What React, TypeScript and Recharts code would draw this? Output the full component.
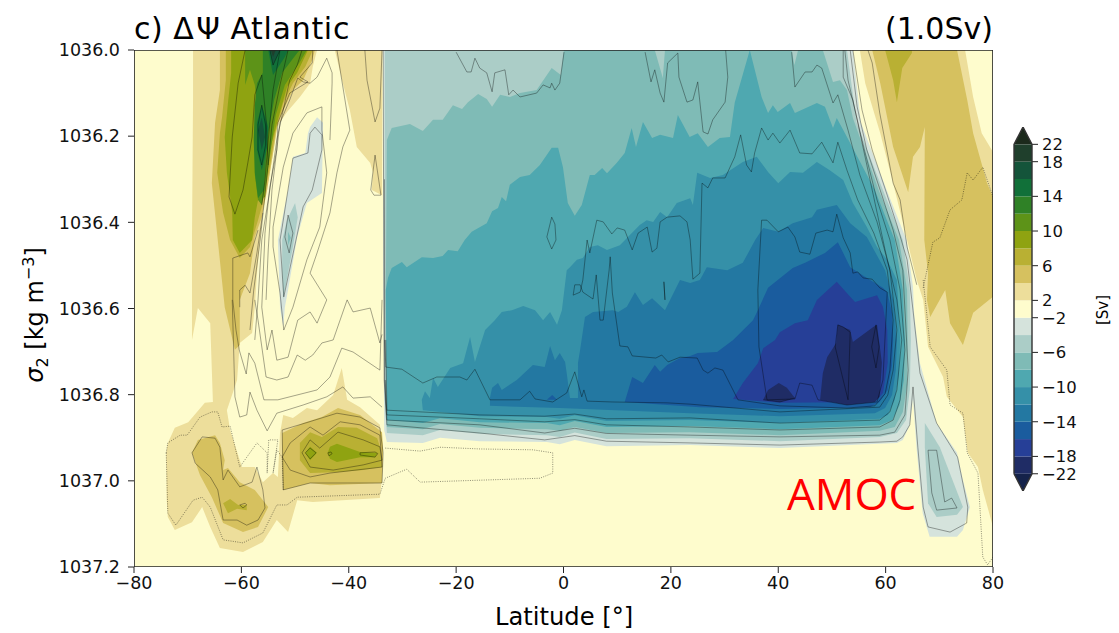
import React from 'react';
import { ScatterChart, Scatter, XAxis, YAxis } from 'recharts';

type Pt = number[];

// y values are sigma2 minus 1036, x values are degrees latitude
const latTicks = [-80, -60, -40, -20, 0, 20, 40, 60, 80];
const sigmaTicks = [0, 0.2, 0.4, 0.6, 0.8, 1.0, 1.2];

// colourbar
const barLevels = [-22, -18, -16, -14, -12, -10, -8, -6, -4, -2, 2, 4, 6, 8, 10, 12, 14, 16, 18, 22];
const barTickLevels = [22, 18, 14, 10, 6, 2, -2, -6, -10, -14, -18, -22];
const barColors = ['#1f2c65', '#263f97', '#1a5c9e', '#2378a2', '#3590a8', '#4fa8b0', '#7fbbb6', '#abcdc7', '#d5e3dc', '#fefccd', '#edde9b', '#d6c15f', '#b9b033', '#8fa311', '#5d9318', '#2f8126', '#117039', '#14543a', '#1f3f2c'];
const overColor = '#1c2a1c';
const underColor = '#14224a';

// filled regions, Atlantic cell
const neg2: Pt[] = [[-33.6,0],[53.9,0],[55.4,.169],[60.2,.325],[63.9,.441],[65.1,.55],[65.3,.61],[65.8,.666],[66.4,.727],[69.5,.866],[73.3,.935],[74.4,.998],[75.7,1.061],[74.4,1.114],[73.3,1.13],[68.2,1.13],[66.9,1.075],[65.8,.929],[65.1,.812],[64.5,.871],[63.2,.905],[62.1,.912],[40.3,.924],[23.5,.917],[8,.92],[2.1,.905],[-.7,.915],[-3.1,.91],[-15.6,.908],[-23,.9],[-26.2,.912],[-32.9,.91],[-33.4,.882],[-33.6,.5]];
const neg4: Pt[] = [[-33.3,0],[52.8,0],[54.6,.169],[59.5,.325],[63.2,.441],[64.5,.557],[64.7,.673],[64.5,.789],[63.8,.859],[62.1,.889],[58.9,.898],[40.3,.908],[23.5,.901],[8,.903],[2.1,.888],[-.7,.898],[-3.1,.894],[-15.6,.891],[-23,.882],[-26.2,.894],[-32.9,.889],[-33.3,.812]];
const neg4Blob: Pt[] = [[67.3,.866],[70.1,.922],[74.4,1.061],[73.3,1.079],[69.5,1.084],[67.9,1.052],[67.3,.922]];
const neg6: Pt[] = [[-32.9,.209],[-32,.181],[-28.6,.172],[-26.2,.188],[-24.3,.162],[-22.5,.162],[-20.6,.128],[-18.9,.137],[-17.8,.121],[-15.9,.102],[-14.3,.114],[-13.3,.132],[-11.8,.104],[-10,.109],[-8.1,.1],[-5,.093],[-2.2,.042],[-.5,.058],[.07,0],[17,0],[18.5,.065],[18.9,0],[42.5,0],[43,.035],[43.7,0],[48.3,0],[50.2,.074],[51.5,.07],[52.8,.093],[53.9,.158],[58.7,.325],[62.5,.441],[64,.557],[64.1,.673],[64,.778],[63.2,.84],[61.7,.875],[58.9,.884],[40.3,.894],[23.5,.887],[8,.889],[2.1,.875],[-.7,.884],[-3.1,.88],[-15.6,.877],[-23,.868],[-26.2,.88],[-32.9,.875],[-33.1,.58]];
const neg8: Pt[] = [[-33.1,.557],[-32.7,.529],[-32,.506],[-30.1,.492],[-29.2,.504],[-26.4,.481],[-24.3,.483],[-22.5,.478],[-21.5,.464],[-19.7,.467],[-18.4,.441],[-17.1,.422],[-14.3,.402],[-13.3,.374],[-12.2,.367],[-11.5,.341],[-10.7,.351],[-10,.313],[-8.1,.295],[-6.3,.29],[-4.4,.267],[-2.2,.227],[-1,.227],[-.1,.272],[.8,.355],[2.1,.385],[3.4,.36],[4.9,.29],[5.8,.29],[7.2,.274],[8.1,.286],[9.9,.262],[11.4,.239],[12.7,.181],[13.5,.225],[14.8,.167],[16.5,.204],[18,.197],[20.4,.204],[21.3,.151],[23.5,.202],[25,.193],[26.9,.225],[29.1,.204],[31,.202],[31.9,.122],[34.7,0],[36.9,.109],[38.1,.146],[39,.128],[39.9,.144],[42.2,.123],[43.1,.146],[47.2,.123],[48.7,.132],[50.2,.181],[50.9,.158],[52.8,.202],[58,.325],[61.7,.441],[63.2,.557],[63.6,.673],[63.4,.766],[62.6,.824],[61.3,.859],[58.9,.871],[40.3,.88],[23.5,.873],[8,.875],[2.1,.861],[-.7,.871],[-3.1,.866],[-15.6,.864],[-23,.855],[-26.2,.866],[-32.9,.859]];
const neg10: Pt[] = [[-26.4,.812],[-25.8,.792],[-24.9,.808],[-24.3,.761],[-23.4,.782],[-21.1,.738],[-18.7,.727],[-17.4,.666],[-16.5,.724],[-14.6,.65],[-12.8,.627],[-11.5,.608],[-9.6,.604],[-7.5,.594],[-5.3,.604],[-3.8,.627],[-2.5,.608],[-1.2,.638],[-.3,.604],[.6,.511],[1.2,.504],[2.5,.487],[3.6,.483],[4.9,.457],[6.4,.453],[8.1,.464],[10.5,.453],[14.2,.406],[15.5,.395],[16.7,.399],[18,.376],[19.3,.388],[21.1,.355],[23.6,.344],[24.1,.36],[24.9,.285],[27.3,.297],[29.7,.29],[33.4,.26],[36,.248],[38.1,.283],[40,.309],[42.2,.283],[44.6,.285],[47.2,.26],[49.6,.279],[52.1,.302],[53.9,.355],[56.5,.411],[58.4,.457],[60.3,.487],[62.1,.534],[62.7,.673],[62.5,.754],[61.7,.812],[60.4,.847],[58.9,.856],[40.3,.866],[23.6,.859],[8,.861],[2.1,.848],[-.7,.856],[-3.1,.852],[-15.6,.85],[-23,.84],[-26.2,.836]];
const neg12: Pt[] = [[-13.7,.808],[-13.3,.784],[-12.2,.773],[-11.5,.789],[-8.7,.766],[-5.7,.731],[-3.5,.736],[-2.5,.687],[-1.6,.72],[-.7,.703],[.3,.724],[.6,.75],[1.2,.808],[2.7,.808],[2.7,.726],[3.1,.696],[4,.62],[5.5,.608],[9.2,.604],[10.2,.608],[11.8,.596],[13.3,.562],[14.8,.592],[16.5,.576],[18.9,.604],[21.7,.534],[23.6,.541],[25.4,.534],[26.7,.504],[30.5,.511],[33.4,.494],[35.7,.441],[37.2,.413],[40,.422],[42.7,.402],[46.3,.388],[47.2,.371],[50.9,.36],[53.4,.402],[56.5,.434],[59.9,.511],[61.4,.58],[62.1,.673],[61.9,.743],[61.2,.801],[59.9,.831],[58,.843],[40.3,.85],[23.6,.843],[-.7,.831],[-13.7,.826]];
const neg14: Pt[] = [[11.4,.817],[12.8,.759],[14.8,.773],[17,.731],[18,.747],[19.3,.731],[21.7,.715],[23.6,.71],[25,.703],[28.6,.701],[31.6,.673],[35.3,.627],[36.2,.604],[38.1,.552],[42.7,.506],[45,.494],[48.7,.471],[51.1,.446],[53.4,.504],[56.5,.529],[59.5,.552],[60.3,.562],[61.2,.61],[61.4,.673],[61.2,.731],[60.4,.789],[58.9,.817],[57.1,.829],[40.3,.833],[25.4,.829]];
const neg14Small: Pt[] = [[-2.1,.801],[-1.2,.812],[-3.1,.812]];
const neg16: Pt[] = [[31.6,.81],[33.4,.773],[36.2,.727],[37.2,.692],[39.4,.673],[40.3,.655],[43.1,.634],[45.5,.627],[47.2,.58],[50.9,.538],[53.4,.573],[54.3,.585],[58.4,.569],[59.5,.596],[60.3,.65],[60.4,.726],[59.5,.796],[58,.817],[40.3,.819]];
const neg18a: Pt[] = [[37.2,.812],[38.1,.789],[40.1,.773],[41.6,.784],[43.1,.808],[40.3,.817]];
const neg18b: Pt[] = [[47.8,.812],[48.3,.75],[49.1,.713],[50.8,.68],[51.1,.638],[53.4,.65],[53.9,.678],[57.7,.643],[58.4,.638],[59.3,.726],[58.9,.805],[58,.817],[52.8,.824]];

// filled regions, Southern Ocean side
const negW2: Pt[] = [[-47.2,.179],[-45.9,.156],[-44.8,.169],[-45,.332],[-47.8,.355],[-49.6,.434],[-51.3,.557],[-51.9,.597],[-52.2,.643],[-52.8,.597],[-53.2,.441],[-51.3,.325],[-50.4,.248],[-48.1,.239],[-47.6,.193]];
const negW4: Pt[] = [[-50,.355],[-49.5,.388],[-50.4,.457],[-51.9,.557],[-52.2,.58],[-52.4,.511],[-52.4,.441],[-51.5,.395]];
const negW6: Pt[] = [[-51.3,.422],[-50.8,.436],[-51.3,.453]];
const pos2West: Pt[] = [[-69,0],[-45.9,0],[-46.7,.039],[-47.2,.077],[-49.1,.109],[-51.5,.144],[-53.4,.179],[-53.7,.209],[-54.7,.285],[-56,.364],[-56.5,.441],[-57.1,.518],[-57.5,.597],[-58,.657],[-60.3,.68],[-60.8,.766],[-62.7,.836],[-62.1,.882],[-59.9,.968],[-57.5,.968],[-56,1.003],[-54.1,.982],[-53.2,.991],[-52.8,.889],[-52.2,.847],[-50.4,.854],[-47.8,.831],[-45.9,.836],[-42.9,.801],[-41.3,.738],[-40.3,.812],[-37.9,.829],[-34.2,.87],[-33.6,.928],[-33.8,.991],[-34.2,1.04],[-46.7,1.049],[-49.6,1.045],[-51.3,1.119],[-53.4,1.091],[-56,1.142],[-59.7,1.165],[-64,1.156],[-65.8,1.107],[-67.3,1.061],[-69.2,1.096],[-72.4,1.114],[-73.7,1.084],[-73.9,1.045],[-74,.935],[-73.7,.912],[-72.4,.877],[-69.9,.864],[-66.8,.819],[-65.3,.817],[-65.8,.634],[-68.1,.599],[-69.2,.673],[-69.2,.58],[-69.2,.441],[-69,.109]];
const pos2Ridge: Pt[] = [[-42.6,0],[-41.1,.077],[-39.8,.139],[-38.5,.225],[-36,.262],[-35.5,.283],[-35.7,.325],[-33.8,.337],[-33.8,0]];
const pos4West: Pt[] = [[-64,0],[-64,.093],[-64.9,.169],[-65.5,.309],[-64.4,.441],[-63.1,.597],[-61.2,.696],[-60.3,.685],[-60.3,.58],[-58.4,.518],[-57.5,.434],[-56.2,.388],[-55.2,.325],[-54.1,.239],[-53.2,.169],[-51.9,.132],[-50.4,.093],[-48.5,.07],[-46.8,.023],[-46.3,0]];
const pos6West: Pt[] = [[-62.9,0],[-62.9,.07],[-63.6,.156],[-64,.193],[-64.5,.285],[-63.4,.378],[-62.1,.441],[-60.3,.483],[-58.4,.457],[-56.9,.395],[-56.2,.364],[-54.7,.272],[-53.7,.193],[-52.2,.123],[-50.4,.077],[-48.1,.039],[-46.7,0]];
const pos8West: Pt[] = [[-61.9,0],[-61.9,.053],[-62.5,.123],[-63.1,.202],[-62.7,.285],[-61.7,.378],[-61.6,.441],[-60.3,.471],[-58,.441],[-57.5,.388],[-56.9,.348],[-55.6,.341],[-54.7,.232],[-53.2,.162],[-51.5,.086],[-49.6,.053],[-47.6,0]];
const pos10West: Pt[] = [[-59.3,0],[-59.3,.081],[-58.4,.046],[-57.5,.081],[-57.1,.132],[-57.5,.209],[-57.5,.29],[-56.9,.348],[-56.2,.36],[-55.6,.325],[-54.7,.248],[-53.6,.151],[-51.9,.081],[-49.1,.028],[-47.8,0]];
const pos12West: Pt[] = [[-56,0],[-56,.053],[-57.1,.077],[-57.5,.128],[-57.7,.209],[-57.5,.285],[-56.9,.344],[-55.8,.325],[-55.2,.209],[-53.9,.116],[-52.4,.053],[-49.6,.007],[-49.1,0]];
const pos14Top: Pt[] = [[-55,0],[-54.1,.058],[-51.9,.016],[-51.3,0]];
const pos14Mid: Pt[] = [[-56.2,.128],[-57.1,.169],[-57.1,.232],[-56.2,.279],[-55.2,.225],[-55,.179]];
const pos16Top: Pt[] = [[-54.7,0],[-54.1,.035],[-52.8,0]];
const pos16Mid: Pt[] = [[-56.2,.156],[-56.9,.186],[-56.2,.232],[-55.6,.202]];
const pos18Top: Pt[] = [[-54.5,0],[-54.1,.016],[-53.6,0]];
const pos4Low: Pt[] = [[-69.2,.935],[-68.1,.905],[-64.9,.894],[-64,.912],[-63.1,.952],[-63.4,.975],[-62.5,.97],[-60.3,1.003],[-57.5,1.021],[-55,1.061],[-56.9,1.107],[-59.7,1.119],[-63.4,1.098],[-65.5,1.038],[-67.7,.987]];
const pos6Low: Pt[] = [[-63.4,1.052],[-62.1,1.042],[-60.6,1.056],[-59,1.056],[-59,1.068],[-60.8,1.065],[-62.5,1.075]];
const pos4Mid: Pt[] = [[-52.4,.889],[-48.5,.866],[-45,.852],[-42,.831],[-37.9,.847],[-33.8,.887],[-33.6,.928],[-33.8,1.005],[-43.5,1.01],[-47.2,1.005],[-52.2,1.021],[-52.4,.952]];
const pos6Mid: Pt[] = [[-49.1,.912],[-47.2,.887],[-45,.898],[-42,.875],[-38.5,.877],[-34.7,.901],[-34.2,.921],[-33.8,.968],[-37.3,.975],[-42.2,.98],[-47.2,.982],[-49.1,.952]];
const pos8MidA: Pt[] = [[-48.1,.935],[-47.2,.921],[-45.9,.935],[-47.2,.952]];
const pos8MidB: Pt[] = [[-43.9,.935],[-43.5,.921],[-42.2,.914],[-37.9,.933],[-34.6,.935],[-35.1,.945],[-37.9,.945],[-42.2,.956],[-43.5,.949]];

// filled regions, north of the cell
const pos2East: Pt[] = [[55.2,0],[56.2,.077],[59,.193],[61.4,.309],[64,.441],[65.8,.534],[67,.58],[67.9,.689],[70.7,.759],[71.4,.805],[74.4,.852],[75.3,.935],[77.2,.968],[78.1,1.021],[80,1.107],[80,.237],[77.9,.193],[76.3,.109],[74.8,0]];
const pos4East: Pt[] = [[57.5,0],[59,.077],[61.4,.225],[64.2,.33],[65.1,.248],[66.4,.225],[67.3,.179],[67.2,.441],[67.9,.518],[67.7,.58],[68.3,.62],[71.1,.557],[72,.634],[74.4,.685],[76.3,.61],[80,.573],[80,.341],[78.9,.309],[76.3,.193],[75.2,.116],[73.3,0]];
const pos6East: Pt[] = [[59.9,0],[61.4,.07],[62.1,.121],[63.1,.042],[64.9,.007],[64.9,0]];

// level of each filled region, painted in this order
const filled: [number, Pt[]][] = [
  [2, pos2West], [2, pos2Ridge], [2, pos2East], [4, pos4West], [4, pos4Low], [4, pos4Mid], [4, pos4East],
  [6, pos6West], [6, pos6Low], [6, pos6Mid], [6, pos6East], [8, pos8West], [8, pos8MidA], [8, pos8MidB],
  [10, pos10West], [12, pos12West], [14, pos14Top], [14, pos14Mid], [16, pos16Top], [16, pos16Mid], [18, pos18Top],
  [-2, negW2], [-4, negW4], [-6, negW6],
  [-2, neg2], [-4, neg4], [-4, neg4Blob], [-6, neg6], [-8, neg8], [-10, neg10], [-12, neg12],
  [-14, neg14], [-14, neg14Small], [-16, neg16], [-18, neg18a], [-18, neg18b],
];

// contour lines, Atlantic cell
const lineA: Pt[] = [[53.9,0],[55.6,.139],[57.5,.232],[60.3,.337],[62.1,.406],[64,.487],[65.1,.604],[66.4,.75],[69.5,.866],[73.4,.945],[75.3,1.061],[75.1,1.098],[72,1.119],[67.9,1.107],[67,1.061],[66,.922],[65.1,.782],[64.5,.87],[63.2,.898],[62.1,.908],[58.9,.91],[40.3,.917],[23.6,.912],[8,.908],[2.1,.895],[-3.5,.905],[-15.6,.889],[-32.9,.87],[-33.4,.766],[-33.6,0]];
const lineB: Pt[] = [[53.4,0],[54.7,.132],[56.5,.232],[59.3,.337],[61.4,.418],[63.2,.511],[64.2,.743],[63.6,.847],[61.7,.887],[58.9,.894],[40.3,.898],[23.6,.894],[8,.89],[2.1,.878],[-3.5,.889],[-15.6,.87],[-32.9,.859],[-33.3,.766],[-33.35,.3]];
const lineC: Pt[] = [[52.4,0],[53,.07],[55.6,.209],[58.4,.348],[60.8,.441],[62.7,.557],[63.6,.696],[62.7,.812],[61.4,.859],[58.9,.875],[40.3,.882],[23.6,.875],[8,.87],[2.1,.858],[-3.5,.863],[-15.6,.856],[-32.9,.847],[-33.2,.766]];
const lineD: Pt[] = [[52.1,0],[52.1,.063],[53.9,.116],[56.5,.267],[59.9,.464],[62.1,.58],[63,.673],[62.1,.789],[60.8,.84],[58.9,.859],[40.3,.866],[23.6,.854],[8,.856],[2.1,.845],[-3.5,.85],[-15.6,.847],[-32.9,.836],[-33.1,.673]];
const lineE: Pt[] = [[42.5,.005],[43.1,.086],[45,.051],[46.3,.051],[47.2,.035],[48.1,.042],[50.2,.123],[51.1,.104],[53,.186],[55.2,.29],[58.4,.399],[60.8,.511],[62.1,.65],[61.4,.743],[60.4,.801],[58.9,.829],[40.3,.84],[23.6,.822],[19.3,.819],[9.2,.817],[4.4,.815],[3.8,.789],[3.4,.805],[2.1,.747],[.6,.796],[-2,.817],[-5.3,.81],[-6.3,.792],[-8.1,.812],[-13.7,.812],[-16.5,.741],[-18,.766],[-19.3,.759],[-23.6,.759],[-26.2,.773],[-30.1,.741],[-33.1,.736],[-33.3,.673]];
const lineF: Pt[] = [[51.1,.214],[50.2,.262],[48.1,.214],[46.3,.241],[44,.239],[42.2,.186],[40.3,.216],[39,.193],[38.1,.209],[36.9,.181],[35.6,.239],[35,.283],[34.1,.267],[33,.197],[31.9,.248],[30.1,.297],[27.8,.297],[26.9,.32],[25.8,.309],[25.4,.518],[24.1,.532],[23.6,.441],[23,.399],[21.7,.385],[19.3,.388],[18,.399],[17.4,.46],[16.5,.469],[15.6,.411],[13.9,.425],[12.8,.464],[11.4,.418],[10,.413],[9,.427],[7.4,.399],[6.2,.395],[4.9,.471],[4.4,.441],[3.6,.534],[3.1,.562],[1.8,.569],[2.1,.545],[3.1,.545],[3.6,.562],[5.5,.578],[6.1,.522],[6.8,.627],[7.4,.627],[8.5,.511],[8.7,.48],[9.1,.564],[10.5,.687],[12,.689],[12.8,.71],[17.2,.715],[18.3,.708],[19.5,.724],[21.7,.713],[24.9,.715],[26,.743],[26.9,.75],[28.2,.738],[29.7,.743],[32.5,.812],[40.3,.826],[52.8,.831],[58,.826],[59.9,.798],[60.8,.743],[61.4,.627],[60.3,.511],[57.8,.425],[54.8,.348],[52.8,.279],[51.1,.214]];
const lineG: Pt[] = [[36.2,.557],[36.9,.395],[37.9,.395],[40,.422],[41.8,.411],[43.1,.434],[44,.469],[45.9,.474],[47,.425],[49.1,.418],[50.2,.422],[50.9,.381],[52.1,.436],[53.4,.471],[53.9,.518],[54.8,.515],[55.8,.529],[57.5,.532],[58.9,.552],[60.3,.562],[59.5,.766],[58.4,.817],[52.8,.824],[47.4,.812],[46.3,.778],[44,.773],[43.1,.81],[37.9,.812],[36.4,.689],[36.2,.557]];
const coreA: Pt[] = [[51.1,.638],[50.6,.689],[53,.812],[53.4,.655],[52.1,.643],[51.1,.638]];
const coreB: Pt[] = [[58.2,.638],[57.4,.689],[58.2,.738],[58.8,.689],[58.2,.638]];
const coreC: Pt[] = [[37.2,.812],[40.3,.817],[43.1,.808]];
const loopA: Pt[] = [[-2.2,.388],[-3.1,.434],[-2.2,.462],[-1.4,.441],[-1.6,.404],[-2.2,.388]];
const loopB: Pt[] = [[18.7,.538],[18.9,.58],[18.7,.538]];
const steep: Pt[] = [[56.7,0],[57.5,.03],[58.9,.146],[61.4,.309],[62.7,.348],[64,.457],[65.8,.545]];
const blobInner: Pt[] = [[67.9,.929],[69.5,.929],[71,1.049],[72.3,1.04],[73.3,1.063],[69.5,1.068],[68.6,1.028],[67.9,.929]];
const topA: Pt[] = [[-20,.005],[-18,.051],[-17.2,.051],[-16.5,.019],[-15.6,.042],[-14.3,.053],[-13.3,.097],[-12.8,.053],[-10.9,.046],[-10.2,.104],[-9.4,.093],[-8.1,.109],[-5,.1],[-3.8,.081],[-2.5,.088],[-2.2,.077],[-1.6,.093],[-.7,.077],[.1,.005]];
const topB: Pt[] = [[15.2,.005],[16.3,.074],[17,.046],[18,.1],[18.7,.121],[19.4,.03],[21.3,.007],[21.5,.063],[23,.121],[24.1,.116],[25,.074],[26,.19],[26.9,.195],[27.8,.162],[30.1,.121],[30.6,.063],[30.2,0]];

// contour lines, Southern Ocean side
const w1: Pt[] = [[-59.3,0],[-60.6,.077],[-61.7,.202],[-62.3,.341],[-61.2,.381],[-59.7,.325],[-58.8,.262],[-58,.202],[-57.5,.104],[-56.2,.058],[-55.4,.162],[-55,.267]];
const w2: Pt[] = [[-56.2,.128],[-56.9,.174],[-56.9,.232],[-56.2,.267],[-55.5,.221],[-55.5,.174],[-56.2,.128]];
const w3: Pt[] = [[-54.7,0],[-54.1,.035],[-52.8,0]];
const w4: Pt[] = [[-52.8,0],[-54.1,.093],[-55,.209],[-55.6,.302],[-56.2,.36]];
const w5: Pt[] = [[-51.3,0],[-52.8,.081],[-54.3,.174],[-55.4,.313],[-56.5,.441],[-57.7,.557],[-58.4,.65]];
const w6: Pt[] = [[-48.7,0],[-49.6,.035],[-51,.07],[-52.2,.139],[-53.4,.209],[-54.7,.325],[-56.2,.441],[-56.9,.58],[-57.5,.673]];
const w7: Pt[] = [[-46.7,0],[-46.8,.03],[-49.1,.063],[-47.6,.074],[-51,.1],[-53.2,.169],[-53.4,.232],[-54.7,.318],[-55.6,.425],[-56.2,.597],[-55.2,.696],[-54.3,.65],[-53.4,.72],[-51.3,.713],[-49.5,.627],[-47.2,.608],[-45.9,.634],[-44.1,.58],[-47.2,.518],[-45.9,.471],[-43.5,.378],[-42.2,.285],[-41.1,.225],[-39.8,.186],[-42.2,0]];
const w8: Pt[] = [[-43.5,.209],[-43.1,.077],[-43.1,.053],[-44.1,.019],[-45.9,.063],[-47.2,.077],[-48.5,.074],[-49.5,.065],[-51,.116],[-52.8,.169],[-54.3,.325],[-55,.464],[-55.4,.58]];
const w9: Pt[] = [[-45,.132],[-47.8,.146],[-50.4,.193],[-52.2,.272],[-54.1,.411],[-54.1,.457],[-52.8,.564],[-52.1,.65],[-50.4,.597],[-47.8,.487],[-45.4,.411],[-44.1,.285],[-45,.186],[-45,.132]];
const w10: Pt[] = [[-46.3,.179],[-47.2,.193],[-47.6,.239],[-50.4,.251],[-52.4,.411],[-52.8,.441],[-52.1,.573],[-48.5,.364],[-46.8,.325],[-45,.232],[-45,.197],[-46.3,.179]];
const w11: Pt[] = [[-51.3,.383],[-51.9,.434],[-51.1,.471],[-50.4,.425],[-51.3,.383]];
const w12: Pt[] = [[-37,0],[-36.6,.07],[-35.1,.167],[-34.2,.135],[-33.8,0]];
const w13: Pt[] = [[-35.1,.244],[-35.9,.325],[-35.3,.337],[-34,.337],[-35.1,.244]];
const w14: Pt[] = [[-56.9,.418],[-58.4,.48],[-58.8,.471],[-61.6,.483],[-61.6,.58],[-61,.65],[-60.4,.696],[-59.1,.752],[-58.6,.703],[-57.5,.727],[-55.8,.812],[-53.2,.812],[-45.9,.789],[-43.5,.759],[-41.3,.692],[-39.2,.701],[-34.2,.743],[-33.8,.58]];
const w15: Pt[] = [[-60.3,.597],[-60.3,.557],[-59.3,.546],[-58.4,.564],[-57.1,.471],[-56,.378]];
const c2: Pt[] = [[-57.5,.58],[-56.9,.627],[-55.4,.759],[-53.4,.766],[-51.3,.759],[-49.6,.708],[-48.1,.72],[-46.7,.708],[-45,.68],[-42.9,.673],[-40.3,.58],[-39.2,.608],[-36,.599],[-34.2,.68],[-33.8,.66]];
const c4: Pt[] = [[-61.7,.58],[-61.2,.805],[-60.3,.852],[-59,.847],[-58.4,.794],[-57.1,.836],[-55.2,.884],[-53.4,.843],[-48.5,.824],[-44.1,.805],[-41.1,.782],[-39.2,.808],[-36,.805],[-33.8,.829]];
const m1: Pt[] = [[-69.2,.935],[-67.3,.898],[-64.9,.901],[-64,.922],[-63.4,.998],[-62.5,.975],[-60.3,1.014],[-58,1.003],[-57.1,.968],[-56,1.021],[-55.6,1.063],[-56.9,1.091],[-59,1.103],[-60.8,1.091],[-63.4,1.091],[-64.4,1.021],[-65.8,.991],[-68.6,.959],[-69.2,.935]];
const m2: Pt[] = [[-60.3,1.056],[-59.3,1.052],[-59,1.056],[-59.7,1.063],[-60.3,1.056]];
const n1: Pt[] = [[-52.4,.882],[-47.6,.864],[-42.2,.843],[-37.9,.852],[-34.2,.877],[-33.6,.935],[-33.8,1.005],[-40.3,1.005],[-47.2,1.005],[-52.2,1.021],[-52.4,.882]];
const n2: Pt[] = [[-50.9,.912],[-47.2,.875],[-44.8,.894],[-41.6,.863],[-37.9,.87],[-34.2,.894],[-33.8,.968],[-43.5,.982],[-47.2,.991],[-50.9,.975],[-52.4,.945],[-50.9,.912]];
const n3: Pt[] = [[-48.7,.935],[-47.2,.905],[-45.4,.924],[-42,.887],[-37.3,.905],[-34.2,.921],[-33.8,.952],[-37.3,.963],[-42.9,.975],[-47.2,.968],[-48.7,.935]];
const n4: Pt[] = [[-48.1,.935],[-47.2,.924],[-46.1,.935],[-47.2,.949],[-48.1,.935]];
const n5: Pt[] = [[-43.9,.935],[-43.3,.933],[-43.1,.937],[-43.7,.942],[-43.9,.935]];
const n6: Pt[] = [[-37.9,.935],[-35.1,.933],[-34.6,.937],[-35.1,.945],[-37.9,.94],[-37.9,.935]];

// dotted near-zero contours
const d1: Pt[] = [[-74,.935],[-73.7,.912],[-71.4,.894],[-70.1,.894],[-67.7,.852],[-65.5,.84],[-64.4,.84],[-63.6,.875],[-62.1,.873],[-60.3,.968],[-57.1,.912],[-55.2,.935],[-55.2,.982],[-54.9,.905],[-53.2,.905],[-54.1,.982],[-53.4,.928],[-52.4,.945],[-52.2,1.021]];
const d2: Pt[] = [[-74,.935],[-73.7,1.075],[-72.2,1.103],[-69,1.045],[-67.3,1.038],[-65.8,1.061],[-63.4,1.137],[-59.7,1.144],[-56,1.121],[-53.4,1.056],[-51.5,1.056],[-49.6,1.038],[-34.2,1.031],[-33.2,.994]];
const d3: Pt[] = [[-33.2,.924],[-26.7,.931],[-23,.922],[-15.6,.926],[-5.7,.928],[-2,.935],[-2,.982],[-4.4,.994],[-26.7,1.003],[-29.2,.973],[-33.2,.994]];
const e1: Pt[] = [[67,.552],[68.8,.446],[70.1,.436],[72,.371],[74.2,.348],[75.2,.285],[76.3,.302],[78.1,.272],[80,.341]];
const e2: Pt[] = [[67,.534],[68.3,.689],[71.4,.743],[72,.824],[74.4,.843],[75.2,.935],[77.2,.982],[78.1,1.177],[79,1.195],[80,1.177]];

const solidLines = [lineA, lineB, lineC, lineD, lineE, lineF, lineG, coreA, coreB, coreC, loopA, loopB, steep, blobInner, topA, topB, w1, w2, w3, w4, w5, w6, w7, w8, w9, w10, w11, w12, w13, w14, w15, c2, c4, m1, m2, n1, n2, n3, n4, n5, n6];
const dottedLines = [d1, d2, d3, e1, e2];

const frame: Pt[] = [[-80, 0], [80, 0], [80, 1.2], [-80, 1.2], [-80, 0]];

const toXY = (pts: Pt[]) => pts.map(([x, y]) => ({ x, y }));
const noDot = () => null;
const fmtMinus = (v: number) => (v < 0 ? `\u2212${Math.abs(v)}` : `${v}`);

// positive regions use the cell above their level, negative the cell below
const colorOf = (level: number) => barColors[barLevels.indexOf(level) - (level > 0 ? 0 : 1)];

const font = '"DejaVu Sans", sans-serif';
const tickStyle = { fontSize: 17.5, fill: '#111', fontFamily: font };
const barTickStyle = { fontSize: 16.5, fill: '#111', fontFamily: font };

const abs = (left: number, top: number, extra: React.CSSProperties): React.CSSProperties => ({
  position: 'absolute', left, top, fontFamily: font, color: '#000', whiteSpace: 'nowrap', lineHeight: 1, ...extra,
});

const barCells = barColors.map((c, i) => ({ c, pts: [[0, i], [1, i], [1, i + 1], [0, i + 1]] }));
const barOutline: Pt[] = [[0, 0], [0, 19], [0.5, 20], [1, 19], [1, 0], [0.5, -1], [0, 0]];
const overTip: Pt[] = [[0, 19], [0.5, 20], [1, 19]];
const underTip: Pt[] = [[0, 0], [0.5, -1], [1, 0]];

const App = () => (
  <div style={{ position: 'absolute', left: 0, top: 0, width: 1119, height: 633, background: '#fff', overflow: 'hidden' }}>
    <ScatterChart width={1119} height={633} margin={{ top: 50, right: 126, bottom: 36, left: 54 }} style={{ position: 'absolute', left: 0, top: 0 }}>
      <XAxis type="number" dataKey="x" domain={[-80, 80]} ticks={latTicks} tickFormatter={fmtMinus} height={30} tick={tickStyle} tickSize={6} tickMargin={4} tickLine={{ stroke: '#222' }} axisLine={false} allowDataOverflow />
      <YAxis type="number" dataKey="y" domain={[0, 1.2]} reversed ticks={sigmaTicks} tickFormatter={(v: number) => (1036 + v).toFixed(1)} width={80} tick={tickStyle} tickSize={6} tickMargin={8} tickLine={{ stroke: '#222' }} axisLine={false} allowDataOverflow />
      <Scatter data={toXY([[-80, 0], [80, 0], [80, 1.2], [-80, 1.2]])} shape={noDot} line={{ fill: '#fefccd', stroke: 'none' }} isAnimationActive={false} />
      {filled.map(([level, pts], i) => (
        <Scatter key={`f${i}`} data={toXY(pts)} shape={noDot} line={{ fill: colorOf(level), stroke: 'none' }} isAnimationActive={false} />
      ))}
      {solidLines.map((pts, i) => (
        <Scatter key={`l${i}`} data={toXY(pts)} shape={noDot} line={{ stroke: '#000', strokeOpacity: 0.5, strokeWidth: 0.7, fill: 'none' }} isAnimationActive={false} />
      ))}
      {dottedLines.map((pts, i) => (
        <Scatter key={`d${i}`} data={toXY(pts)} shape={noDot} line={{ stroke: '#000', strokeOpacity: 0.55, strokeWidth: 0.8, strokeDasharray: '1 1.3', fill: 'none' }} isAnimationActive={false} />
      ))}
      <Scatter data={toXY(frame)} shape={noDot} line={{ stroke: '#222', strokeWidth: 1.6, fill: 'none' }} isAnimationActive={false} />
    </ScatterChart>

    <ScatterChart width={95} height={364.1} margin={{ top: 0, right: 0, bottom: 0, left: 14 }} style={{ position: 'absolute', left: 1000, top: 126.7 }}>
      <XAxis type="number" dataKey="x" domain={[0, 1]} hide />
      <YAxis type="number" dataKey="y" orientation="right" domain={[-1, 20]} ticks={barTickLevels.map((l) => barLevels.indexOf(l))} tickFormatter={(i: number) => fmtMinus(barLevels[i])} interval={0} width={63} tick={barTickStyle} tickSize={6} tickMargin={4} tickLine={{ stroke: '#222' }} axisLine={false} />
      {barCells.map((cell, i) => (
        <Scatter key={i} data={toXY(cell.pts)} shape={noDot} line={{ fill: cell.c, stroke: 'none' }} isAnimationActive={false} />
      ))}
      <Scatter data={toXY(overTip)} shape={noDot} line={{ fill: overColor, stroke: 'none' }} isAnimationActive={false} />
      <Scatter data={toXY(underTip)} shape={noDot} line={{ fill: underColor, stroke: 'none' }} isAnimationActive={false} />
      <Scatter data={toXY(barOutline)} shape={noDot} line={{ stroke: '#333', strokeWidth: 1.4, fill: 'none' }} isAnimationActive={false} />
    </ScatterChart>

    <div style={abs(134, 14, { fontSize: 30, letterSpacing: 0.5 })}>c) <span style={{ marginRight: 2 }}>Δ</span>Ψ <span style={{ letterSpacing: 0.7 }}>Atlantic</span></div>
    <div style={abs(885, 14, { fontSize: 30 })}>(1.0Sv)</div>
    <div style={abs(495, 605, { fontSize: 24.2 })}>Latitude [°]</div>
    <div style={{ ...abs(36, 315, { fontSize: 24 }), transform: 'translate(-50%,-50%) rotate(-90deg)' }}>
      <i>σ</i><sub style={{ fontSize: 16 }}>2</sub> [kg m<sup style={{ fontSize: 16 }}>−3</sup>]
    </div>
    <div style={{ ...abs(1103, 310, { fontSize: 15 }), transform: 'translate(-50%,-50%) rotate(-90deg)' }}>[Sv]</div>
    <div style={abs(787, 470.5, { fontSize: 44, color: '#ff0000', fontFamily: '"Open Sans", sans-serif' })}>AMOC</div>
  </div>
);

export default App;
